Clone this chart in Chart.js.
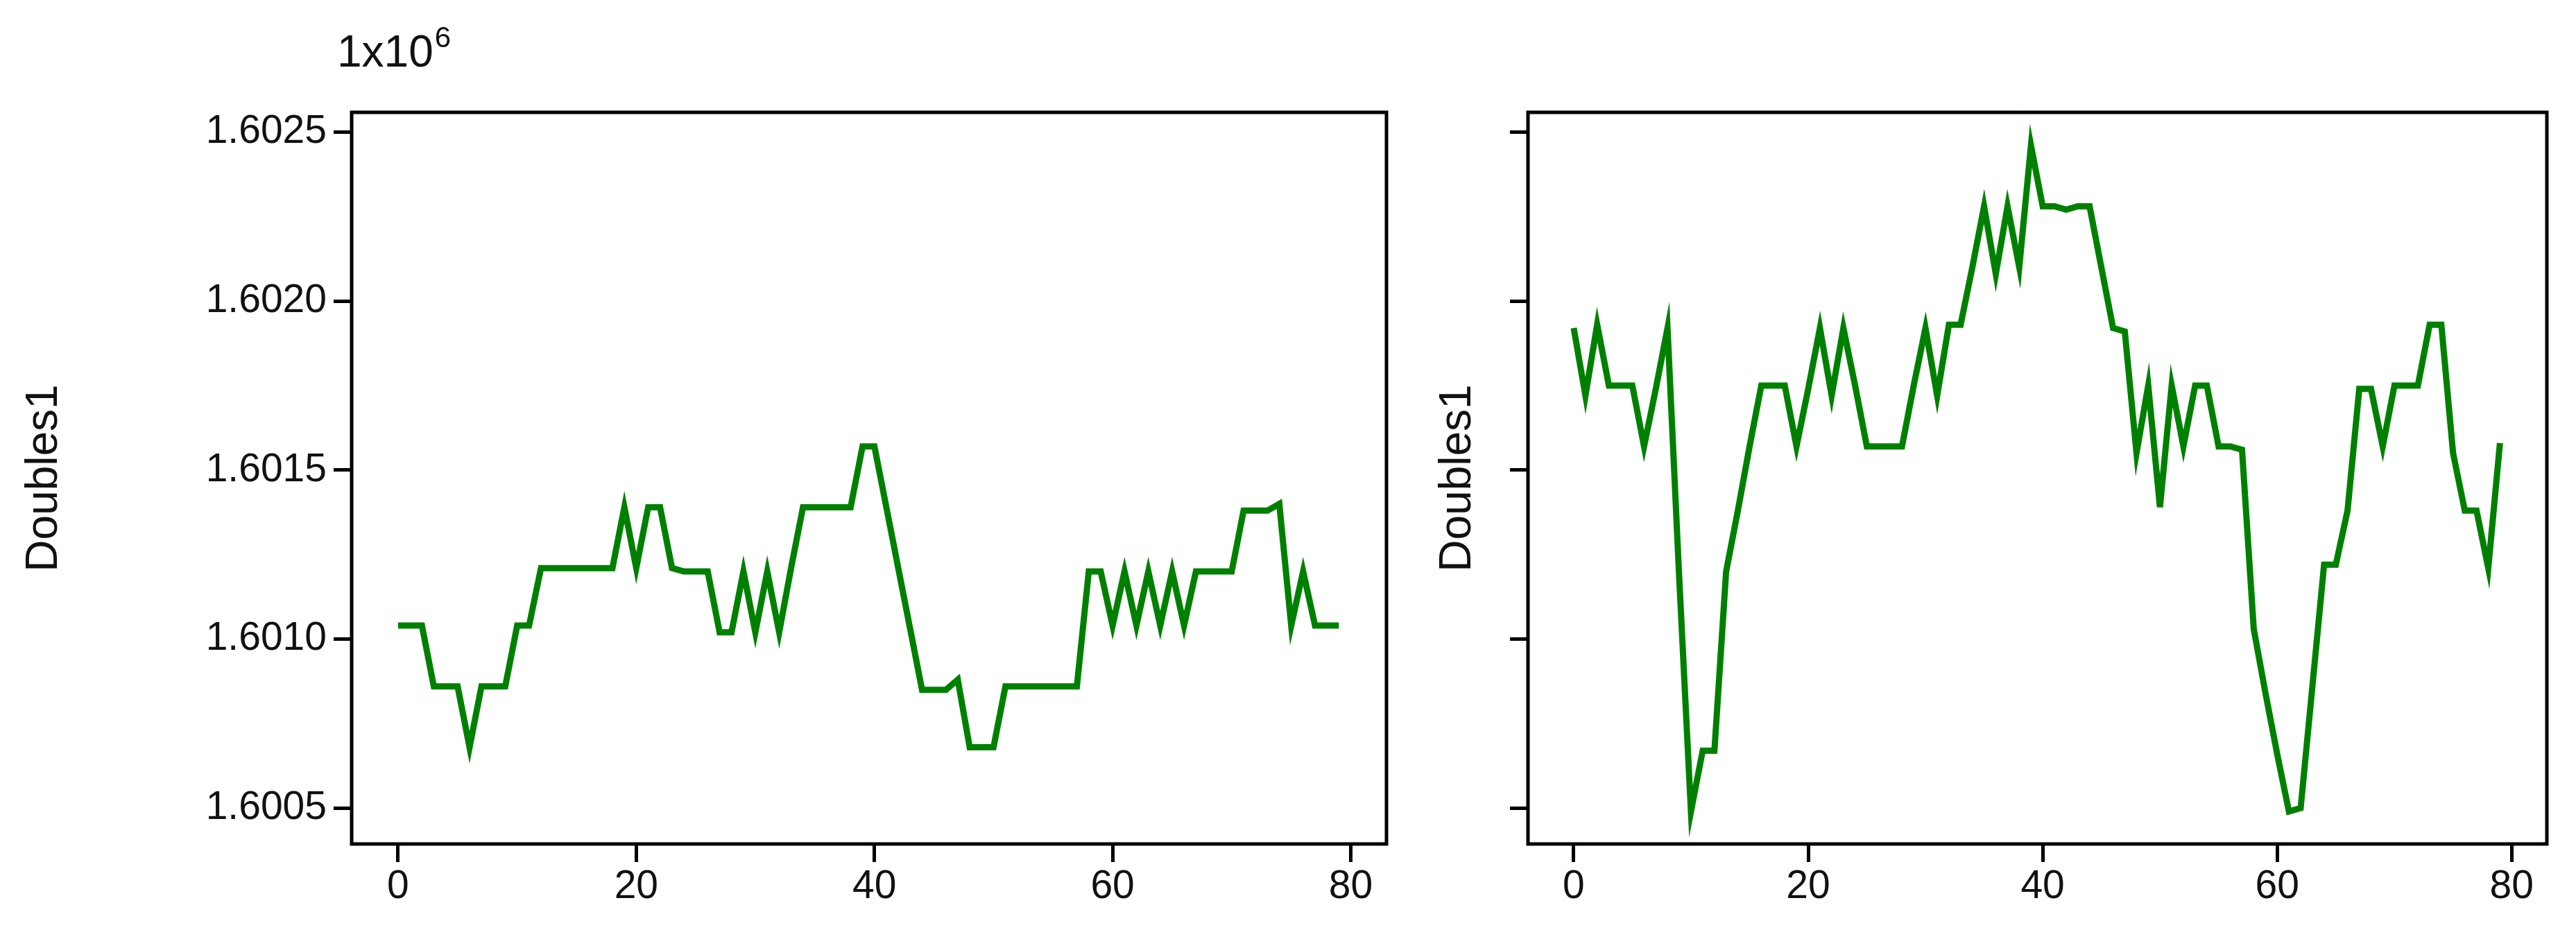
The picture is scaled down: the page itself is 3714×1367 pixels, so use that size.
<!DOCTYPE html>
<html>
<head>
<meta charset="utf-8">
<script src="https://cdn.jsdelivr.net/npm/chart.js@4.4.1/dist/chart.umd.min.js"></script>
<style>
body { margin: 0; background: #fff; width: 3714px; height: 1367px; overflow: hidden; }
.box { position: absolute; top: 0; height: 1367px; }
</style>
</head>
<body>
<div class="box" style="left:0;width:2030px"><canvas id="leftChart"></canvas></div>
<div class="box" style="left:2040px;width:1674px"><canvas id="rightChart"></canvas></div>
<script>
// values in units of 1x10^6
var leftValues = [
  1.60104, 1.60104, 1.60104, 1.60086, 1.60086, 1.60086, 1.60068, 1.60086, 1.60086, 1.60086,
  1.60104, 1.60104, 1.60121, 1.60121, 1.60121, 1.60121, 1.60121, 1.60121, 1.60121, 1.60139,
  1.60121, 1.60139, 1.60139, 1.60121, 1.60120, 1.60120, 1.60120, 1.60102, 1.60102, 1.60120,
  1.60102, 1.60120, 1.60102, 1.60121, 1.60139, 1.60139, 1.60139, 1.60139, 1.60139, 1.60157,
  1.60157, 1.60139, 1.60121, 1.60103, 1.60085, 1.60085, 1.60085, 1.60088, 1.60068, 1.60068,
  1.60068, 1.60086, 1.60086, 1.60086, 1.60086, 1.60086, 1.60086, 1.60086, 1.60120, 1.60120,
  1.60104, 1.60120, 1.60104, 1.60120, 1.60104, 1.60120, 1.60104, 1.60120, 1.60120, 1.60120,
  1.60120, 1.60138, 1.60138, 1.60138, 1.60140, 1.60104, 1.60120, 1.60104, 1.60104, 1.60104
];
var rightValues = [
  1.60192, 1.60172, 1.60193, 1.60175, 1.60175, 1.60175, 1.60157, 1.60174, 1.60192, 1.60118,
  1.60049, 1.60067, 1.60067, 1.60120, 1.60138, 1.60157, 1.60175, 1.60175, 1.60175, 1.60157,
  1.60174, 1.60192, 1.60172, 1.60192, 1.60175, 1.60157, 1.60157, 1.60157, 1.60157, 1.60175,
  1.60192, 1.60172, 1.60193, 1.60193, 1.60210, 1.60228, 1.60208, 1.60228, 1.60210, 1.60246,
  1.60228, 1.60228, 1.60227, 1.60228, 1.60228, 1.60210, 1.60192, 1.60191, 1.60155, 1.60175,
  1.60139, 1.60175, 1.60157, 1.60175, 1.60175, 1.60157, 1.60157, 1.60156, 1.60103, 1.60084,
  1.60066, 1.60049, 1.60050, 1.60086, 1.60122, 1.60122, 1.60138, 1.60174, 1.60174, 1.60157,
  1.60175, 1.60175, 1.60175, 1.60193, 1.60193, 1.60155, 1.60138, 1.60138, 1.60121, 1.60158
];
var xTicks = [0, 20, 40, 60, 80];
var yTicks = [1.6005, 1.6010, 1.6015, 1.6020, 1.6025];
var yTitle = 'Doubles1';
var yScaleNote = '1x10';
var yScaleExp = '6';

var font = { family: 'Liberation Sans', size: 57 };

var framePlugin = {
  id: 'frame',
  afterDraw: function (chart) {
    var a = chart.chartArea, c = chart.ctx;
    c.save();
    c.strokeStyle = '#000';
    c.lineWidth = 5;
    c.strokeRect(a.left, a.top, a.right - a.left, a.bottom - a.top);
    if (chart.options.plugins.frame.note) {
      c.fillStyle = '#111';
      c.font = '64px "Liberation Sans"';
      c.textBaseline = 'alphabetic';
      c.fillText(yScaleNote, 486, 96);
      var w = c.measureText(yScaleNote).width;
      c.font = '42px "Liberation Sans"';
      c.fillText(yScaleExp, 486 + w + 2, 68);
    }
    c.restore();
  }
};

function makeChart(id, values, yWidth, rightPad, leftPad, showLabels) {
  var pts = values.map(function (v, i) { return { x: i, y: v }; });
  return new Chart(document.getElementById(id), {
    type: 'line',
    data: { datasets: [{ data: pts, borderColor: '#008000', borderWidth: 9, pointRadius: 0, tension: 0, fill: false }] },
    options: {
      animation: false,
      responsive: true,
      maintainAspectRatio: false,
      layout: { padding: { top: 162, right: rightPad, left: leftPad, bottom: 0 } },
      plugins: { legend: { display: false }, tooltip: { enabled: false }, frame: { note: showLabels } },
      scales: {
        x: {
          type: 'linear', min: -3.9, max: 83,
          afterBuildTicks: function (s) { s.ticks = xTicks.map(function (v) { return { value: v }; }); },
          afterFit: function (s) { s.height = 150; },
          grid: { drawOnChartArea: false, drawTicks: true, tickLength: 26, tickWidth: 5, color: '#000' },
          border: { display: false },
          ticks: { color: '#111', font: font, padding: 2, maxRotation: 0 }
        },
        y: {
          type: 'linear', min: 1.600394, max: 1.602558,
          afterBuildTicks: function (s) { s.ticks = yTicks.map(function (v) { return { value: v }; }); },
          afterFit: function (s) { s.width = yWidth - leftPad; },
          grid: { drawOnChartArea: false, drawTicks: true, tickLength: 26, tickWidth: 5, color: '#000' },
          border: { display: false },
          title: { display: true, text: yTitle, color: '#111', font: { family: 'Liberation Sans', size: 64 }, padding: { top: 0, bottom: 0 } },
          ticks: {
            color: '#111', font: font, padding: 10,
            callback: function (v) { return showLabels ? v.toFixed(4) : ''; }
          }
        }
      }
    },
    plugins: [framePlugin]
  });
}

makeChart('leftChart', leftValues, 507, 31, 26, true);
makeChart('rightChart', rightValues, 163, 42, 24, false);
</script>
</body>
</html>
